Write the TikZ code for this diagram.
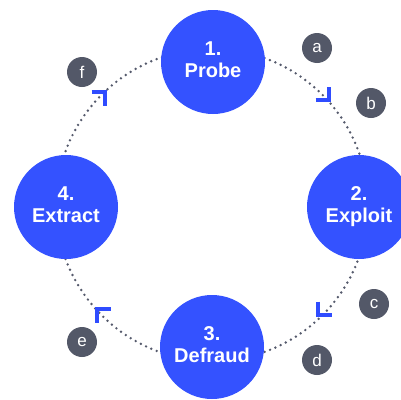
\documentclass[tikz,border=0pt]{standalone}
\usepackage{fontspec}
\setmainfont{Liberation Sans}
\definecolor{stageblue}{RGB}{52,82,255}
\definecolor{chevblue}{RGB}{47,76,255}
\definecolor{badgegray}{RGB}{83,88,104}
\definecolor{dotgray}{RGB}{85,90,108}
\newcommand{\stagetext}[3][3pt]{\raisebox{#1}{\begin{tabular}{@{}c@{}}#2\\#3\end{tabular}}}
\tikzset{
  stage/.style={circle, fill=stageblue, minimum size=104pt, inner sep=0pt, text=white,
    font=\bfseries\fontsize{20}{22.5}\selectfont, align=center},
  badge/.style={circle, fill=badgegray, minimum size=30pt, inner sep=0pt, text=white,
    font=\fontsize{17}{17}\selectfont},
  dotring/.style={draw=dotgray, line width=2.7pt, line cap=round, dash pattern=on 0pt off 5.8pt},
  chev/.style={draw=chevblue, line width=4pt, line cap=butt, line join=miter}
}
\begin{document}
\begin{tikzpicture}[x=1pt,y=-1pt]
\useasboundingbox (0,0) rectangle (401,399);
\coordinate (ctr) at (212,205);
\draw[dotring] (ctr) circle[radius=156];
\node[stage] (probe) at (213,62) {\stagetext{1.}{Probe}};
\node[stage] (exploit) at (359,207) {\stagetext{2.}{Exploit}};
\node[stage] (defraud) at (212,347) {\stagetext[0pt]{3.}{Defraud}};
\node[stage] (extract) at (66,207) {\stagetext{4.}{Extract}};
\node[badge] (ba) at (317,48) {a};
\node[badge] (bb) at (371,103) {b};
\node[badge] (bc) at (374,304) {c};
\node[badge] (bd) at (317,360) {d};
\node[badge] (be) at (82,342) {e};
\node[badge] (bf) at (82,72) {f};
\coordinate (ta) at (329,100);
\coordinate (tc) at (318,315);
\coordinate (te) at (97,309);
\coordinate (tf) at (105,92);
\draw[chev] ([xshift=-13.5pt]ta) -- (ta) -- ([yshift=13.5pt]ta);
\draw[chev] ([yshift=13.5pt]tc) -- (tc) -- ([xshift=13.5pt]tc);
\draw[chev] ([xshift=13.5pt]te) -- (te) -- ([yshift=-13.5pt]te);
\draw[chev] ([xshift=-13.5pt]tf) -- (tf) -- ([yshift=-13.5pt]tf);
\end{tikzpicture}
\end{document}
